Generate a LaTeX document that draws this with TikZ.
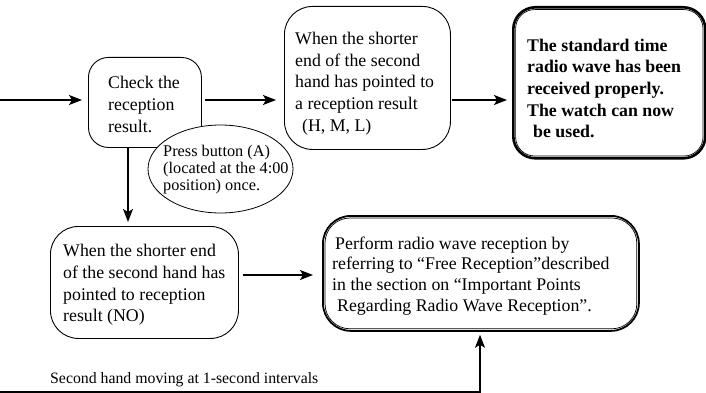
\documentclass[tikz,border=0pt]{standalone}
\usepackage{fontspec}
\setmainfont{Liberation Serif}[BoldFont={Liberation Serif Bold},ItalicFont={Liberation Serif Italic}]
\usetikzlibrary{arrows.meta,shapes.geometric}
\begin{document}
\begin{tikzpicture}[x=1pt,y=-1pt,
  box/.style={draw, line width=0.9pt, rounded corners=#1, inner sep=0pt, anchor=north west},
  txt/.style={anchor=west, align=left, inner sep=0pt, font=\fontsize{17.8}{21.7}\selectfont},
  arr/.style={line width=1.4pt, -{Stealth[length=13pt,width=10pt,inset=3pt]}}]
\useasboundingbox (0,0) rectangle (706,393);
% boxes
\node[box=20pt, minimum width=113pt, minimum height=90pt] (check) at (88,57) {};
\node[box=28pt, minimum width=166pt, minimum height=143pt] (b2) at (284,6) {};
\node[box=22pt, line width=2.6pt, minimum width=192pt, minimum height=151pt] (b3) at (512,6) {};
\draw[line width=0.7pt, rounded corners=19pt] ([shift={(3.6pt,-3.6pt)}]b3.north west) rectangle ([shift={(-3.6pt,3.6pt)}]b3.south east);
\node[box=28pt, minimum width=188pt, minimum height=112pt] (b4) at (50,226) {};
\node[box=28pt, line width=1.8pt, minimum width=316pt, minimum height=115pt] (b5) at (322,215) {};
\draw[line width=0.7pt, rounded corners=25pt] ([shift={(3pt,-3pt)}]b5.north west) rectangle ([shift={(-3pt,3pt)}]b5.south east);
\node[ellipse, draw, fill=white, line width=0.8pt, inner sep=0pt, minimum width=145pt, minimum height=88pt] (ell) at (220.5,169) {};
% texts
\node[txt] (t1) at (108,104.5) {Check the\\reception\\result.};
\node[txt] (t2) at (295,83.5) {When the shorter\\end of the second\\hand has pointed to\\a reception result\\\hspace*{7pt}(H, M, L)};
\node[txt, font=\fontsize{17.8}{21.7}\selectfont\bfseries] (t3) at (527,88.5) {The standard time\\radio wave has been\\received properly.\\The watch can now\\\hspace*{6pt}be used.};
\node[txt] (t4) at (63,285) {When the shorter end\\of the second hand has\\pointed to reception\\result (NO)};
\node[txt, font=\fontsize{17.8}{20.8}\selectfont] (t5) at (332,276) {\hspace*{3pt}Perform radio wave reception by\\referring to “Free Reception”described\\in the section on “Important Points\\\hspace*{5pt}Regarding Radio Wave Reception”.};
\node[txt, font=\fontsize{16.3}{17}\selectfont] (t6) at (163,170) {Press button (A)\\(located at the 4:00\\position) once.};
\node[anchor=base west, inner sep=0pt, font=\fontsize{15.8}{18}\selectfont] (lbl) at (50,383) {Second hand moving at 1-second intervals};
% connectors
\coordinate (start) at (0,100);
\coordinate (vx) at (128,0);
\coordinate (hy) at (0,275);
\coordinate (bl) at (0,392);
\coordinate (bx) at (480,0);
\draw[arr, shorten >=6pt] (start) -- (start -| check.west);
\draw[arr, shorten <=3pt, shorten >=8pt] (start -| check.east) -- (start -| b2.west);
\draw[arr, shorten <=1pt, shorten >=5pt] (start -| b2.east) -- (start -| b3.west);
\draw[arr, shorten >=4pt] (vx |- check.south) -- (vx |- b4.north);
\draw[arr, shorten <=4pt, shorten >=9pt] (hy -| b4.east) -- (hy -| b5.west);
\draw[arr, shorten >=3pt] (bl) -- (bl -| bx) -- (bx |- b5.south);
\end{tikzpicture}
\end{document}
